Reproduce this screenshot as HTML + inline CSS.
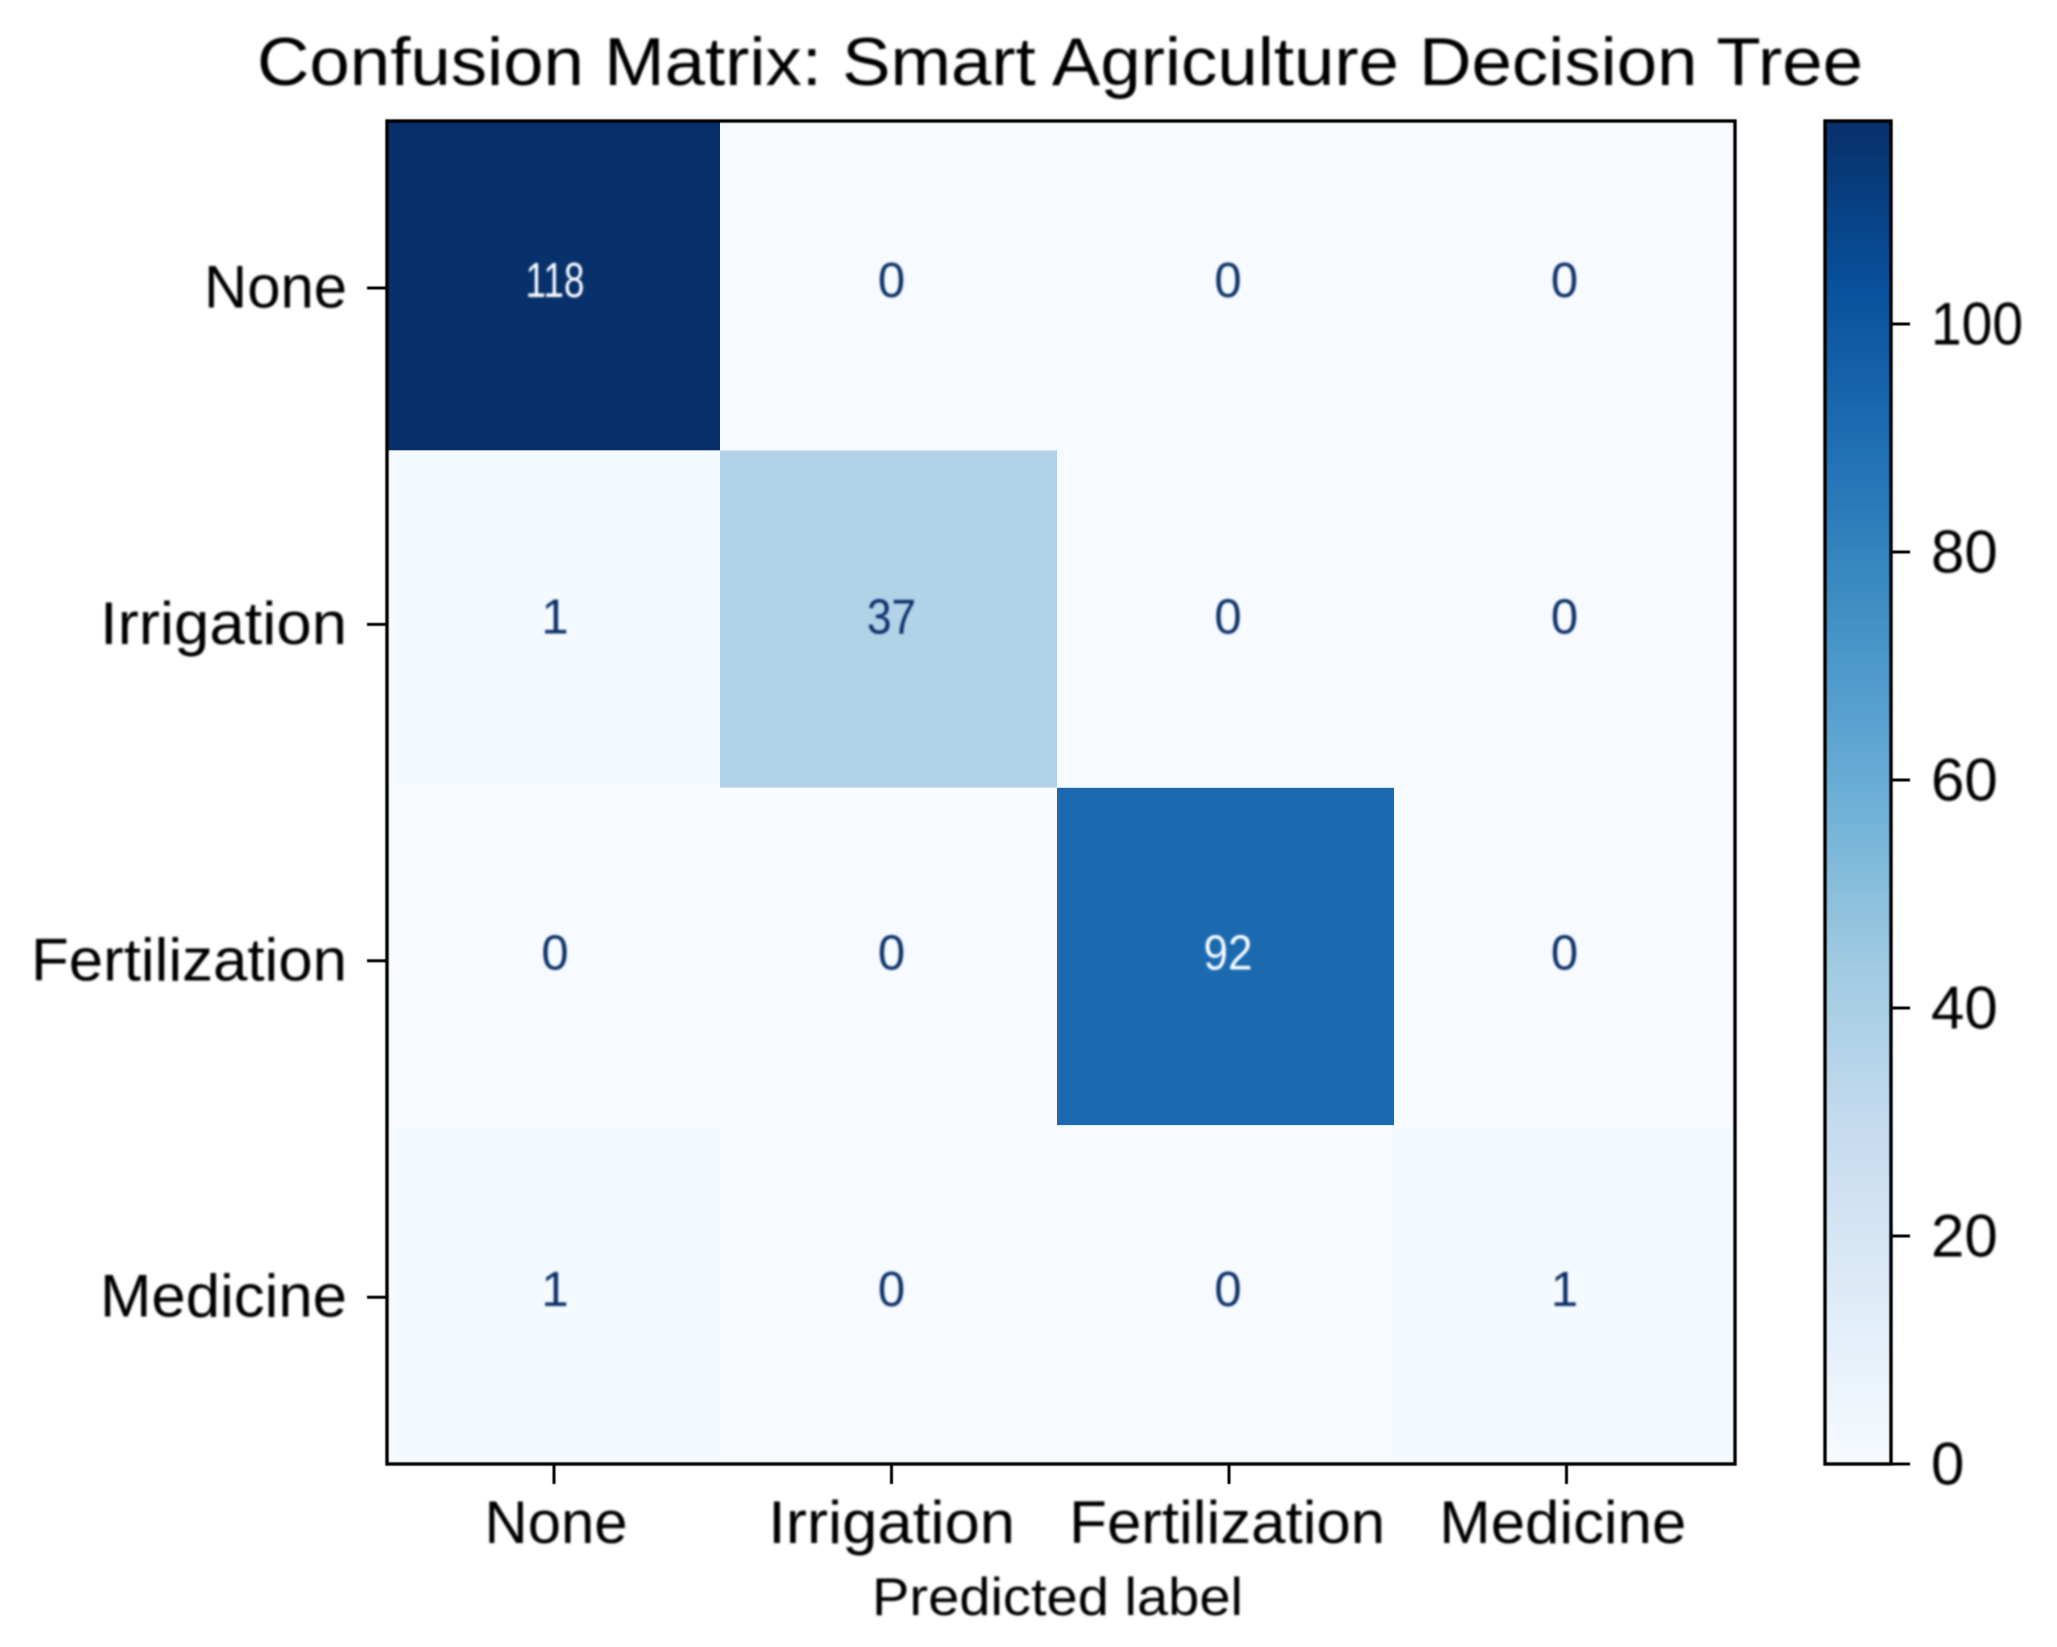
<!DOCTYPE html>
<html lang="en">
<head>
<meta charset="utf-8">
<title>Confusion Matrix: Smart Agriculture Decision Tree</title>
<style>
  html, body { margin: 0; padding: 0; background: #ffffff; }
  svg { display: block; }
  text { font-family: "Liberation Sans", "DejaVu Sans", sans-serif; fill: #000; }
</style>
</head>
<body>
<svg id="chart" xmlns="http://www.w3.org/2000/svg" width="2057" height="1647" viewBox="0 0 2057 1647">
  <defs>
    <filter id="soft-text" filterUnits="userSpaceOnUse" x="0" y="0" width="2057" height="1647"><feGaussianBlur stdDeviation="0.95"/></filter>
    <filter id="soft-line" filterUnits="userSpaceOnUse" x="0" y="0" width="2057" height="1647"><feGaussianBlur stdDeviation="0.5"/></filter>
    <linearGradient id="colorbar-gradient" x1="0" y1="1" x2="0" y2="0"></linearGradient>
  </defs>
  <rect x="0" y="0" width="2057" height="1647" fill="#ffffff"/>
  <g id="cells"></g>
  <rect x="1825" y="121" width="66" height="1343" fill="url(#colorbar-gradient)"/>
  <g id="lines" filter="url(#soft-line)" stroke="#000" fill="none">
    <rect x="387" y="121" width="1348" height="1343" stroke-width="3.4"/>
    <rect x="1825" y="121" width="66" height="1343" stroke-width="3.4"/>
  </g>
  <g id="labels" filter="url(#soft-text)">
    <text x="257" y="85" font-size="68" textLength="1606" lengthAdjust="spacingAndGlyphs">Confusion Matrix: Smart Agriculture Decision Tree</text>
    <text x="872" y="1615" font-size="53" textLength="371" lengthAdjust="spacingAndGlyphs">Predicted label</text>
  </g>
</svg>
<script>
// Chart data
const categories = ["None", "Irrigation", "Fertilization", "Medicine"];
const row_none = [118, 0, 0, 0];
const row_irrigation = [1, 37, 0, 0];
const row_fertilization = [0, 0, 92, 0];
const row_medicine = [1, 0, 0, 1];
const colorbarTicks = [0, 20, 40, 60, 80, 100];
const colorDomainMax = 118;
const colorDomainMin = 0;

const matrix = [row_none, row_irrigation, row_fertilization, row_medicine];
const blues = ["#f7fbff", "#deebf7", "#c6dbef", "#9ecae1", "#6baed6", "#4292c6", "#2171b5", "#08519c", "#08306b"];
const NS = "http://www.w3.org/2000/svg";

// Layout constants
const plot = { left: 388, right: 1735, top: 121, bottom: 1464 };
const labelWidth = { "None": 143, "Irrigation": 247, "Fertilization": 316, "Medicine": 247 };

// Axis functions
function columnEdge(i) {
  if (i >= categories.length) return plot.right;
  return Math.max(plot.left, 383 + 337 * i);
}
function rowEdge(i) {
  if (i >= categories.length) return plot.bottom;
  return Math.max(plot.top, 113 + 337.4 * i);
}
function xTick(i) { return 554 + 337.5 * i; }
function yTick(i) { return 288 + 336.4 * i; }
function xLabelCenter(i) { return 556 + 335.6 * i; }
function annotationCenter(i) { return 555 + 336.5 * i; }
function annotationBaseline(i) { return 297 + 336.3 * i; }
function colorbarY(v) { return 1464 - (v - colorDomainMin) * 11.4; }

function hexToRgb(h) {
  return [parseInt(h.slice(1, 3), 16), parseInt(h.slice(3, 5), 16), parseInt(h.slice(5, 7), 16)];
}
function colorScale(v) {
  const t = Math.min(1, Math.max(0, (v - colorDomainMin) / (colorDomainMax - colorDomainMin)));
  const p = t * (blues.length - 1);
  const k = Math.min(blues.length - 2, Math.floor(p));
  const a = hexToRgb(blues[k]);
  const b = hexToRgb(blues[k + 1]);
  const f = p - k;
  return "rgb(" + a.map(function (c, j) { return Math.round(c + (b[j] - c) * f); }).join(",") + ")";
}
function make(tag, attrs) {
  const el = document.createElementNS(NS, tag);
  Object.keys(attrs).forEach(function (key) { el.setAttribute(key, attrs[key]); });
  return el;
}

const cellLayer = document.getElementById("cells");
const lineLayer = document.getElementById("lines");
const textLayer = document.getElementById("labels");
const gradient = document.getElementById("colorbar-gradient");

blues.forEach(function (color, i) {
  const stop = make("stop", { offset: i / (blues.length - 1), "stop-color": color });
  gradient.appendChild(stop);
});

const midpoint = (colorDomainMax + colorDomainMin) / 2;
matrix.forEach(function (row, r) {
  row.forEach(function (value, c) {
    const x0 = columnEdge(c);
    const x1 = columnEdge(c + 1);
    const y0 = rowEdge(r);
    const y1 = rowEdge(r + 1);
    const cell = make("rect", { x: x0, y: y0, width: x1 - x0, height: y1 - y0, fill: colorScale(value) });
    
    
    cellLayer.appendChild(cell);

    const digits = String(value);
    const label = make("text", { x: annotationCenter(c), y: annotationBaseline(r), "font-size": 49, "text-anchor": "middle" });
    
    
    label.style.fill = value > midpoint ? "#f7fbff" : "#08306b";
    if (digits.length === 2) {
      label.setAttribute("textLength", 49);
      label.setAttribute("lengthAdjust", "spacingAndGlyphs");
    }
    if (digits.length >= 3) {
      label.setAttribute("textLength", 59);
      label.setAttribute("lengthAdjust", "spacingAndGlyphs");
    }
    label.textContent = digits;
    textLayer.appendChild(label);
  });
});

categories.forEach(function (name, i) {
  const tickX = make("line", { x1: xTick(i), x2: xTick(i), y1: plot.bottom, y2: plot.bottom + 20, "stroke-width": 3 });
  
  
  lineLayer.appendChild(tickX);

  const tickY = make("line", { x1: plot.left - 21, x2: plot.left, y1: yTick(i), y2: yTick(i), "stroke-width": 3 });
  
  
  lineLayer.appendChild(tickY);

  const labelX = make("text", { x: xLabelCenter(i), y: 1543, "font-size": 60, "text-anchor": "middle", textLength: labelWidth[name], lengthAdjust: "spacingAndGlyphs" });
  
  
  labelX.textContent = name;
  textLayer.appendChild(labelX);

  const labelY = make("text", { x: 347 - labelWidth[name], y: yTick(i) + 19.5, "font-size": 60, textLength: labelWidth[name], lengthAdjust: "spacingAndGlyphs" });
  
  
  labelY.textContent = name;
  textLayer.appendChild(labelY);
});

colorbarTicks.forEach(function (value) {
  const y = colorbarY(value);
  const tick = make("line", { x1: 1891, x2: 1910, y1: y, y2: y, "stroke-width": 3 });
  
  
  lineLayer.appendChild(tick);

  const label = make("text", { x: 1931, y: y + 20.5, "font-size": 60 });
  
  
  if (String(value).length >= 3) {
    label.setAttribute("textLength", 92);
    label.setAttribute("lengthAdjust", "spacingAndGlyphs");
  }
  label.textContent = String(value);
  textLayer.appendChild(label);
});
</script>
</body>
</html>
